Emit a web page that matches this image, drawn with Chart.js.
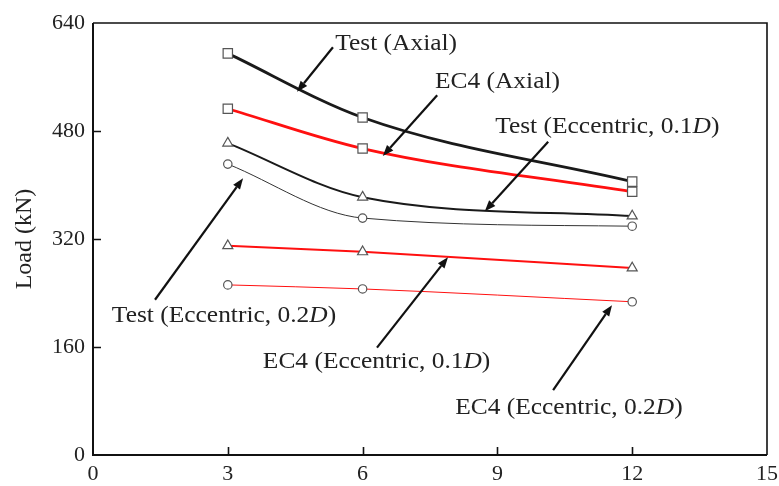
<!DOCTYPE html>
<html>
<head>
<meta charset="utf-8">
<script src="https://cdn.jsdelivr.net/npm/chart.js@4.4.1/dist/chart.umd.min.js"></script>
<style>
  html, body { margin: 0; padding: 0; background: #fff; }
  #wrap { width: 779px; height: 486px; }
</style>
</head>
<body>
<div id="wrap"><canvas id="c" width="779" height="486"></canvas></div>
<script>
// Column length (x) against load (kN) for test results and EC4 predictions
const lengths = [3, 6, 12];
const testAxial = [595, 500, 405];
const ec4Axial = [513, 454, 390];
const testEcc01 = [462, 382, 354];
const testEcc02 = [431, 351, 339];
const ec4Ecc01 = [310, 301, 277];
const ec4Ecc02 = [252, 246, 227];

const xTicks = [0, 3, 6, 9, 12, 15];
const yTicks = [0, 160, 320, 480, 640];
const yTitle = 'Load (kN)';

// Callout labels: text parts (italic flag), text anchor, arrow tail and arrow tip in data units
const callouts = [
  { parts: [['Test (Axial)', false]], at: [5.39, 609], from: [5.34, 604], to: [4.54, 538] },
  { parts: [['EC4 (Axial)', false]], at: [7.61, 553], from: [7.66, 533], to: [6.45, 443] },
  { parts: [['Test (Eccentric, 0.1', false], ['D', true], [')', false]], at: [8.95, 486], from: [10.13, 464], to: [8.72, 361] },
  { parts: [['Test (Eccentric, 0.2', false], ['D', true], [')', false]], at: [0.42, 207], from: [1.38, 230], to: [3.34, 410] },
  { parts: [['EC4 (Eccentric, 0.1', false], ['D', true], [')', false]], at: [3.78, 138], from: [6.32, 159], to: [7.90, 293] },
  { parts: [['EC4 (Eccentric, 0.2', false], ['D', true], [')', false]], at: [8.06, 70], from: [10.24, 96], to: [11.55, 222] }
];

const SERIF = '"Liberation Serif", "Times New Roman", serif';
const BLACK = '#1a1a1a';
const RED = '#ff1010';

function pts(vals) { return lengths.map((x, i) => ({ x: x, y: vals[i] })); }

function series(label, vals, color, width, style, radius) {
  return {
    label: label,
    data: pts(vals),
    borderColor: color,
    borderWidth: width,
    cubicInterpolationMode: 'monotone',
    pointStyle: style,
    pointRadius: radius,
    pointBorderColor: '#555',
    pointBackgroundColor: '#fff',
    pointBorderWidth: 1.2
  };
}

const datasets = [
  series('EC4 (Eccentric, 0.2D)', ec4Ecc02, RED, 1, 'circle', 4.2),
  series('EC4 (Eccentric, 0.1D)', ec4Ecc01, RED, 2, 'triangle', 5.8),
  series('Test (Eccentric, 0.2D)', testEcc02, '#333', 1, 'circle', 4.2),
  series('Test (Eccentric, 0.1D)', testEcc01, BLACK, 2, 'triangle', 5.8),
  series('EC4 (Axial)', ec4Axial, RED, 2.8, 'rect', 6.6),
  series('Test (Axial)', testAxial, BLACK, 2.8, 'rect', 6.6)
];

// Frame, inward tick marks and callouts
const decor = {
  id: 'decor',
  afterDatasetsDraw(chart) {
    const ctx = chart.ctx;
    const xs = chart.scales.x, ys = chart.scales.y;
    ctx.save();
    callouts.forEach(c => {
      const tx = xs.getPixelForValue(c.at[0]), ty = ys.getPixelForValue(c.at[1]);
      ctx.save();
      ctx.translate(tx, ty);
      ctx.scale(1.06, 1);
      let cx = 0;
      ctx.fillStyle = '#222';
      ctx.textBaseline = 'middle';
      ctx.textAlign = 'left';
      c.parts.forEach(p => {
        ctx.font = (p[1] ? 'italic ' : '') + '24px ' + SERIF;
        ctx.fillText(p[0], cx, 0);
        cx += ctx.measureText(p[0]).width;
      });
      ctx.restore();
      const x0 = xs.getPixelForValue(c.from[0]), y0 = ys.getPixelForValue(c.from[1]);
      const x1 = xs.getPixelForValue(c.to[0]), y1 = ys.getPixelForValue(c.to[1]);
      const ang = Math.atan2(y1 - y0, x1 - x0);
      const hl = 11, hw = 4.2;
      const bx = x1 - hl * Math.cos(ang), by = y1 - hl * Math.sin(ang);
      ctx.strokeStyle = '#111';
      ctx.lineWidth = 2.2;
      ctx.beginPath();
      ctx.moveTo(x0, y0);
      ctx.lineTo(bx, by);
      ctx.stroke();
      ctx.fillStyle = '#111';
      ctx.beginPath();
      ctx.moveTo(x1, y1);
      ctx.lineTo(bx + hw * Math.sin(ang), by - hw * Math.cos(ang));
      ctx.lineTo(bx - hw * Math.sin(ang), by + hw * Math.cos(ang));
      ctx.closePath();
      ctx.fill();
    });
    ctx.restore();
  },
  afterDraw(chart) {
    const ctx = chart.ctx;
    const a = chart.chartArea;
    const xs = chart.scales.x, ys = chart.scales.y;
    ctx.save();
    ctx.strokeStyle = '#111';
    ctx.lineWidth = 1.6;
    ctx.beginPath();
    ctx.moveTo(a.left, a.top);
    ctx.lineTo(a.right, a.top);
    ctx.lineTo(a.right, a.bottom);
    ctx.stroke();
    ctx.lineWidth = 2;
    ctx.beginPath();
    ctx.moveTo(a.left, a.top);
    ctx.lineTo(a.left, a.bottom);
    ctx.lineTo(a.right, a.bottom);
    ctx.stroke();
    ctx.lineWidth = 1.6;
    ctx.beginPath();
    xTicks.slice(1, -1).forEach(v => {
      const px = Math.round(xs.getPixelForValue(v)) + 0.5;
      ctx.moveTo(px, a.bottom);
      ctx.lineTo(px, a.bottom - 8);
    });
    yTicks.slice(1, -1).forEach(v => {
      const py = Math.round(ys.getPixelForValue(v)) + 0.5;
      ctx.moveTo(a.left, py);
      ctx.lineTo(a.left + 8, py);
    });
    ctx.stroke();
    ctx.restore();
  }
};

new Chart(document.getElementById('c').getContext('2d'), {
  type: 'line',
  data: { datasets: datasets },
  options: {
    responsive: false,
    animation: false,
    events: [],
    layout: { padding: { top: 23, right: 12, left: 0, bottom: 0 } },
    plugins: { legend: { display: false }, tooltip: { enabled: false } },
    scales: {
      x: {
        type: 'linear',
        min: 0, max: 15,
        afterBuildTicks(s) { s.ticks = xTicks.map(v => ({ value: v })); },
        afterFit(s) { s.height = 31; s.paddingRight = 0; },
        grid: { display: false, drawTicks: false },
        border: { display: false },
        ticks: { color: '#222', padding: 6, maxRotation: 0, font: { family: SERIF, size: 22 } }
      },
      y: {
        type: 'linear',
        min: 0, max: 640,
        afterBuildTicks(s) { s.ticks = yTicks.map(v => ({ value: v })); },
        afterFit(s) { s.width = 93; },
        grid: { display: false, drawTicks: false },
        border: { display: false },
        ticks: { color: '#222', padding: 8, font: { family: SERIF, size: 22 } },
        title: { display: true, text: yTitle, color: '#222', padding: { top: 10, bottom: 0 }, font: { family: SERIF, size: 24 } }
      }
    }
  },
  plugins: [decor]
});
</script>
</body>
</html>
